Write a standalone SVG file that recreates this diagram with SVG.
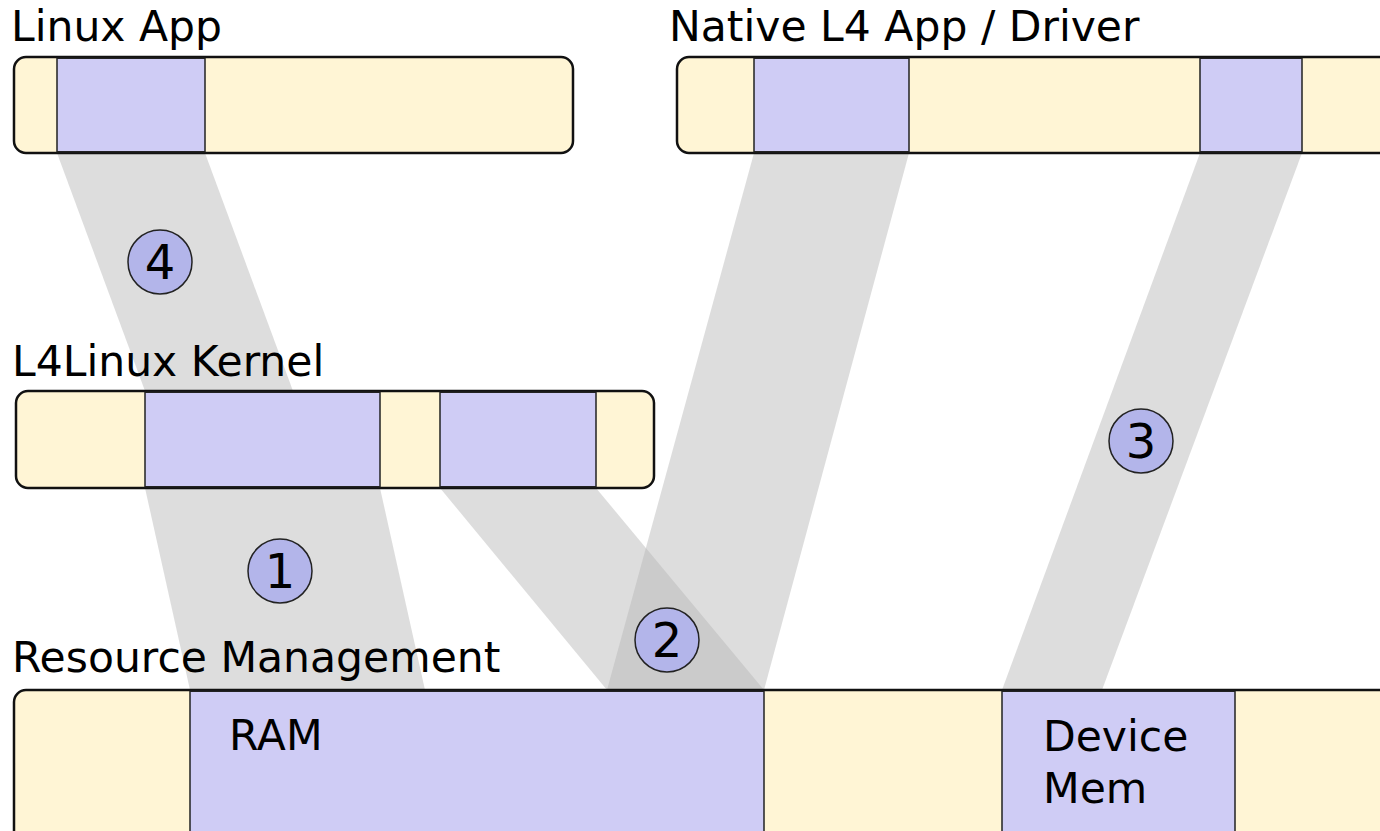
<svg xmlns="http://www.w3.org/2000/svg" width="1380" height="831" viewBox="0 0 1380 831">
<style>
.lbl{font-family:"DejaVu Sans","Liberation Sans",sans-serif;font-size:42.5px;fill:#000}
.num{font-family:"DejaVu Sans","Liberation Sans",sans-serif;font-size:48px;fill:#000;text-anchor:middle}
.box{fill:#fff5d5;stroke:#111;stroke-width:2.5}
.seg{fill:#cfccf5;stroke:#222;stroke-width:1.5}
.band{fill:#b7b7b7;fill-opacity:0.47;stroke:none}
.circ{fill:#b3b5ea;stroke:#222;stroke-width:1.5}
</style>
<rect width="1380" height="831" fill="#fff"/>
<g id="connectors">
<polygon class="band" points="57,153 205,153 293,391 145,391"/>
<polygon class="band" points="145,488 380,488 425,690 190,690"/>
<polygon class="band" points="440,488 596,488 764,690 607,690"/>
<polygon class="band" points="754,153 909,153 764,690 607,690"/>
<polygon class="band" points="1200,153 1302,153 1102,690 1002,690"/>
</g>
<g id="linux-app">
<text class="lbl" x="11" y="41">Linux App</text>
<rect class="box" x="14" y="57" width="559" height="96" rx="12"/>
<rect class="seg" x="57" y="58.25" width="148" height="93.5"/>
</g>
<g id="native-app">
<text class="lbl" x="669" y="41">Native L4 App / Driver</text>
<rect class="box" x="677" y="57" width="740" height="96" rx="12"/>
<rect class="seg" x="754" y="58.25" width="155" height="93.5"/>
<rect class="seg" x="1200" y="58.25" width="102" height="93.5"/>
</g>
<g id="l4linux-kernel">
<text class="lbl" x="12" y="376">L4Linux Kernel</text>
<rect class="box" x="16" y="391" width="638" height="97" rx="12"/>
<rect class="seg" x="145" y="392.25" width="235" height="94.5"/>
<rect class="seg" x="440" y="392.25" width="156" height="94.5"/>
</g>
<g id="resource-management">
<text class="lbl" x="12" y="672">Resource Management</text>
<rect class="box" x="14" y="690" width="1420" height="180" rx="12"/>
<rect class="seg" x="190" y="691.25" width="574" height="180"/>
<rect class="seg" x="1002" y="691.25" width="233" height="180"/>
<text class="lbl" x="229" y="750">RAM</text>
<text class="lbl" x="1043" y="751">Device</text>
<text class="lbl" x="1043" y="803">Mem</text>
</g>
<g id="step-4"><circle class="circ" cx="160" cy="262" r="32"/><text class="num" x="160" y="279">4</text></g>
<g id="step-1"><circle class="circ" cx="280" cy="571" r="32"/><text class="num" x="280" y="588">1</text></g>
<g id="step-2"><circle class="circ" cx="667" cy="640" r="32"/><text class="num" x="667" y="657">2</text></g>
<g id="step-3"><circle class="circ" cx="1141" cy="441" r="32"/><text class="num" x="1141" y="458">3</text></g>
</svg>
